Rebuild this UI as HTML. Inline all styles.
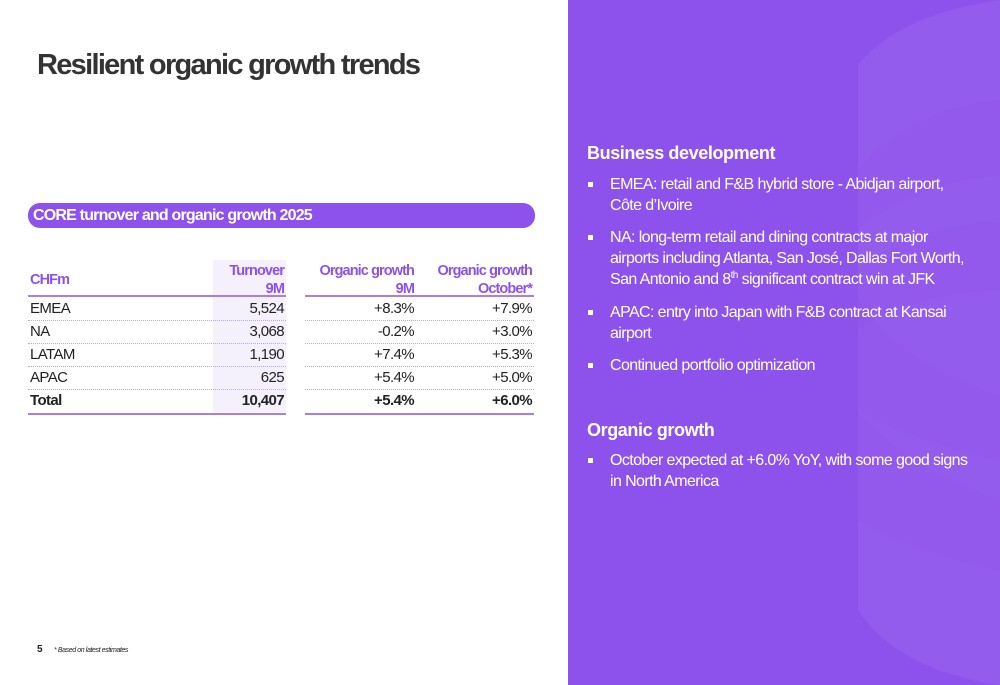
<!DOCTYPE html>
<html><head><meta charset="utf-8"><style>
*{margin:0;padding:0;box-sizing:border-box}
body{width:1000px;height:685px;position:relative;overflow:hidden;background:#fff;font-family:"Liberation Sans",sans-serif;color:#222}
.abs{position:absolute}
h1{position:absolute;left:37px;top:49px;font-size:29px;font-weight:bold;color:#333;letter-spacing:-1.7px;white-space:nowrap}
.pill{left:28px;top:203px;width:507px;height:25px;background:#8c52eb;border-radius:12px;color:#fff;font-weight:bold;font-size:16px;line-height:25px;padding-left:5px;letter-spacing:-0.8px}
.cell{position:absolute;font-size:15px;white-space:nowrap;letter-spacing:-0.6px}
.hd{color:#8c52eb;font-weight:bold;text-align:right;line-height:18px;font-size:14.5px;letter-spacing:-0.9px}
.line{position:absolute;height:2px;background:#a67ef0}
.dot{position:absolute;height:0;border-top:1px dotted #b9a6e6}
.panel{left:568px;top:0;width:432px;height:685px;background:#8e52ec;overflow:hidden}
.panel h2{position:absolute;left:19px;font-size:18px;color:#fff;font-weight:bold;white-space:nowrap;letter-spacing:-0.4px}
.bl{position:absolute;left:42px;color:#fff;font-size:16px;line-height:21px;white-space:nowrap;letter-spacing:-0.6px}
.bl sup{font-size:10px;line-height:0;vertical-align:6px}
.bl::before{content:"";position:absolute;left:-22px;top:8px;width:5px;height:5px;background:#fff}
</style></head><body>
<h1>Resilient organic growth trends</h1>
<div class="abs pill">CORE turnover and organic growth 2025</div>
<div class="abs" style="left:213px;top:260px;width:73px;height:152px;background:#f4f0fc"></div>
<div class="cell hd" style="left:30px;top:271px;text-align:left">CHFm</div>
<div class="cell hd" style="right:716px;top:262px">Turnover<br>9M</div>
<div class="cell hd" style="right:586px;top:262px">Organic growth<br>9M</div>
<div class="cell hd" style="right:468px;top:262px">Organic growth<br>October*</div>
<div class="line" style="left:28px;width:258px;top:295px"></div>
<div class="line" style="left:305px;width:229px;top:295px"></div>
<div id="rows"></div>
<div class="abs" style="left:37px;top:644px;font-size:10px;font-weight:bold">5</div>
<div class="abs" style="left:54px;top:647px;font-size:7px;font-style:italic;letter-spacing:-0.4px">* Based on latest estimates</div>
<div class="abs panel">
<svg class="abs" style="left:0;top:0" width="432" height="685">
<path d="M290 65 Q330 15 432 0 L432 685 Q330 670 290 610 Z" fill="#fff" opacity="0.06"/>
<path d="M290 170 Q340 110 432 100 L432 175 Q340 185 290 230 Z" fill="#8e52ec" opacity="0.35"/>
<path d="M290 270 Q340 225 432 222 L432 290 Q340 295 290 330 Z" fill="#8e52ec" opacity="0.35"/>
<path d="M290 300 Q340 370 432 395 L432 460 Q340 440 290 410 Z" fill="#8e52ec" opacity="0.35"/>
<path d="M290 410 Q340 470 432 500 L432 570 Q340 550 290 520 Z" fill="#8e52ec" opacity="0.35"/>
</svg>
<h2 style="top:143px">Business development</h2>
<div class="bl" style="top:174px">EMEA: retail and F&amp;B hybrid store - Abidjan airport,<br>Côte d’Ivoire</div>
<div class="bl" style="top:227px">NA: long-term retail and dining contracts at major<br>airports including Atlanta, San José, Dallas Fort Worth,<br>San Antonio and 8<sup>th</sup> significant contract win at JFK</div>
<div class="bl" style="top:302px">APAC: entry into Japan with F&amp;B contract at Kansai<br>airport</div>
<div class="bl" style="top:355px">Continued portfolio optimization</div>
<h2 style="top:420px">Organic growth</h2>
<div class="bl" style="top:450px">October expected at +6.0% YoY, with some good signs<br>in North America</div>
</div>
<script>
const regions=["EMEA","NA","LATAM","APAC","Total"];
const turnover=["5,524","3,068","1,190","625","10,407"];
const growth9m=["+8.3%","-0.2%","+7.4%","+5.4%","+5.4%"];
const growthOct=["+7.9%","+3.0%","+5.3%","+5.0%","+6.0%"];
const rows=document.getElementById('rows');
function cell(txt,style,name,bold){const d=document.createElement('div');d.className='cell';d.style.cssText=style;if(bold)d.style.fontWeight='bold';d.textContent=txt;


rows.appendChild(d);}
regions.forEach((r,i)=>{const y=300+i*23;const b=i===regions.length-1;const k=r.toLowerCase();
cell(r,`left:30px;top:${y}px`,'row-label-'+k,b);
cell(turnover[i],`right:716px;top:${y}px`,'turnover-'+k,b);
cell(growth9m[i],`right:586px;top:${y}px`,'growth-9m-'+k,b);
cell(growthOct[i],`right:468px;top:${y}px`,'growth-october-'+k,b);
if(!b){[[28,258],[305,229]].forEach(([l,w])=>{const s=document.createElement('div');s.className='dot';s.style.cssText=`left:${l}px;width:${w}px;top:${y+20}px`;rows.appendChild(s);});}
else{[[28,258],[305,229]].forEach(([l,w])=>{const s=document.createElement('div');s.className='line';s.style.cssText=`left:${l}px;width:${w}px;top:${y+21}px`;rows.appendChild(s);});}
});
</script>
</body></html>
